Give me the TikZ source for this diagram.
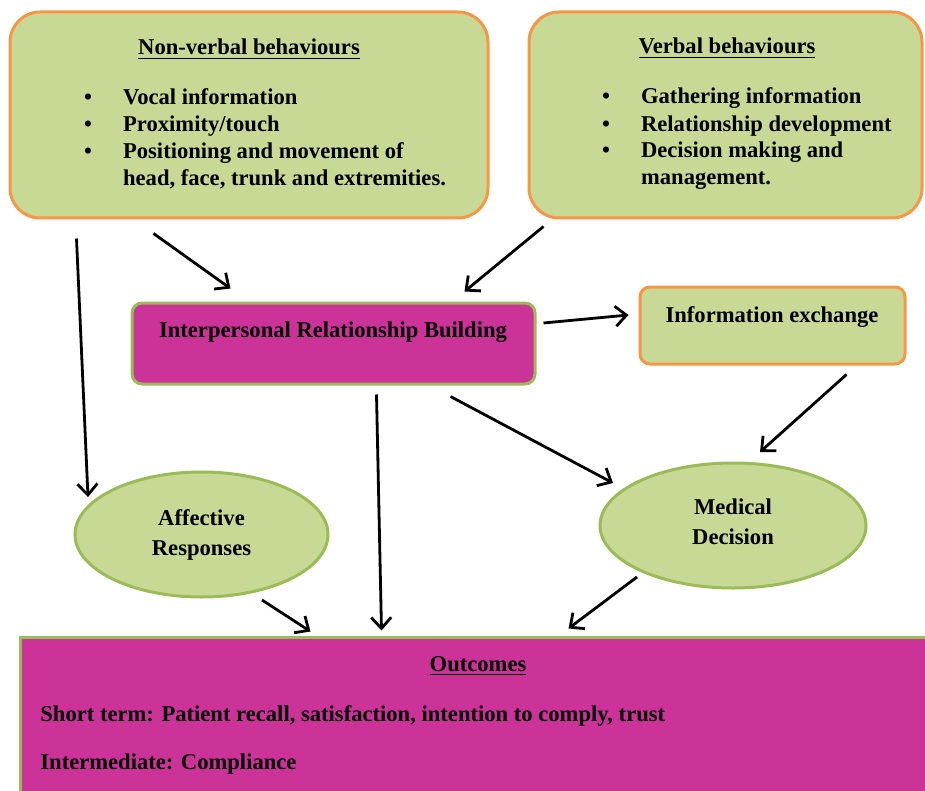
\documentclass[tikz,border=0pt]{standalone}
\usepackage{fontspec}
\setmainfont{Liberation Serif}
\usetikzlibrary{arrows.meta}
\usetikzlibrary{shapes.geometric}

\definecolor{boxgreen}{RGB}{200,217,150}
\definecolor{boxorange}{RGB}{247,150,70}
\definecolor{boxmagenta}{RGB}{204,51,153}
\definecolor{edgegreen}{RGB}{155,187,89}

\newcommand{\bulletmark}{\llap{\makebox[35pt]{\textbullet}}}

\begin{document}
\begin{tikzpicture}[x=0.5pt,y=-0.5pt,
    txt/.style={font=\bfseries\fontsize{11.3}{13.5}\selectfont,inner sep=0pt},
    greenbox/.style={draw=boxorange,fill=boxgreen,line width=1.5pt,inner sep=0pt},
    pinkbox/.style={draw=edgegreen,fill=boxmagenta,line width=1.5pt,inner sep=0pt},
    greenoval/.style={ellipse,draw=edgegreen,fill=boxgreen,line width=1.5pt,inner sep=0pt,
      align=center,font=\bfseries\fontsize{11.3}{15}\selectfont},
    flow/.style={line width=1.4pt,-{Straight Barb[length=5.5pt,width=10pt]}}]

    \useasboundingbox (0,0) rectangle (925,791);

    % boxes
    \node [greenbox,rounded corners=15pt,minimum width=239pt,minimum height=103pt] (nonverbal) at (249,115) {};
    \node [greenbox,rounded corners=15pt,minimum width=196.5pt,minimum height=103pt] (verbal) at (725.5,115) {};
    \node [pinkbox,rounded corners=5pt,minimum width=201.5pt,minimum height=40.5pt] (irb) at (333.5,343.5) {};
    \node [greenbox,rounded corners=5pt,minimum width=132.5pt,minimum height=38.5pt] (infoex) at (772.5,325.5) {};
    \node [greenoval,minimum width=126.5pt,minimum height=62.5pt] (affective) at (201.5,534.5) {Affective\\Responses};
    \node [greenoval,minimum width=133pt,minimum height=62.5pt] (medical) at (733,525.5) {Medical\\Decision\rule[-4pt]{0pt}{4pt}};
    \node [pinkbox,minimum width=462.5pt,minimum height=86.5pt] (outcomes) at (482.5,723.5) {};

    % texts
    \node [txt,anchor=base] (nvtitle) at (249,55) {\underline{Non-verbal behaviours}};
    \node [txt,anchor=base west,align=left] (nvlist) at (122.7,186)
      {\bulletmark Vocal information\\
       \bulletmark Proximity/touch\\
       \bulletmark Positioning and movement of\\
       head, face, trunk and extremities.};

    \node [txt,anchor=base] (vtitle) at (727,54) {\underline{Verbal behaviours}};
    \node [txt,anchor=base west,align=left] (vlist) at (640.7,185)
      {\bulletmark Gathering information\\
       \bulletmark Relationship development\\
       \bulletmark Decision making and\\
       management.};

    \node [txt,anchor=base] (irbtext) at (333,337) {Interpersonal Relationship Building};
    \node [txt,anchor=base] (infotext) at (772,322) {Information exchange};

    \node [txt,anchor=base] (outtitle) at (478,671) {\underline{Outcomes}};
    \node [txt,anchor=base west] (shortterm) at (40,721) {Short term: Patient recall, satisfaction, intention to comply, trust};
    \node [txt,anchor=base west] (intermed) at (40,769) {Intermediate: Compliance};

    % arrows
    \draw [flow] ([shift={(68,19)}]nonverbal.south west) -- ([shift={(-113.5,-37.5)}]affective.center);
    \draw [flow] ([shift={(145,14)}]nonverbal.south west) -- ([shift={(100,-13)}]irb.north west);
    \draw [flow] ([shift={(16,7)}]verbal.south west) -- ([shift={(-72,-10)}]irb.north east);
    \draw [flow] ([shift={(7,-20.5)}]irb.east) -- ([shift={(-10,-10.5)}]infoex.west);
    \draw [flow] ([shift={(-60,9)}]infoex.south east) -- ([shift={(27,-73.5)}]medical.center);
    \draw [flow] ([shift={(246,9)}]irb.south west) -- ([shift={(363,-5)}]outcomes.north west);
    \draw [flow] ([shift={(320,11)}]irb.south west) -- ([shift={(-120,-42.5)}]medical.center);
    \draw [flow] ([shift={(60.5,65.5)}]affective.center) -- ([shift={(292,-4)}]outcomes.north west);
    \draw [flow] ([shift={(-96,51.5)}]medical.center) -- ([shift={(550,-7)}]outcomes.north west);

\end{tikzpicture}
\end{document}
